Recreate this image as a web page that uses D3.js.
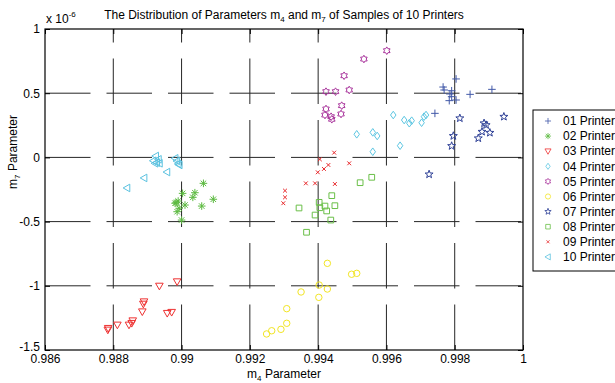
<!DOCTYPE html>
<html><head><meta charset="utf-8">
<script src="https://cdn.jsdelivr.net/npm/d3@7"></script>
<style>body{margin:0;background:#fff;overflow:hidden}text{font-family:"Liberation Sans",Arial,sans-serif;fill:#000}</style>
</head><body><svg id="c" width="615" height="383"></svg>
<script>
// ---- data (m4 values, m7 values in units of 1e-6) ----
const printerNames = ["01 Printer","02 Printer","03 Printer","04 Printer","05 Printer","06 Printer","07 Printer","08 Printer","09 Printer","10 Printer"];
const p01_m4 = [0.99804,0.99766,0.99769,0.99791,0.99786,0.99784,0.99804,0.99845,0.99909,0.99742,0.99791];
const p01_m7 = [0.611,0.548,0.525,0.519,0.494,0.442,0.447,0.491,0.530,0.343,0.473];
const p02_m4 = [0.99064,0.99039,0.99093,0.99033,0.99059,0.99003,0.98990,0.98984,0.99010,0.98993,0.98987,0.99000,0.98981];
const p02_m7 = [-0.202,-0.275,-0.326,-0.311,-0.379,-0.280,-0.340,-0.353,-0.371,-0.396,-0.423,-0.488,-0.357];
const p03_m4 = [0.98935,0.98987,0.98890,0.98888,0.98885,0.98857,0.98854,0.98846,0.98812,0.98785,0.98784,0.98958,0.98971];
const p03_m7 = [-1.002,-0.968,-1.124,-1.142,-1.202,-1.272,-1.292,-1.305,-1.305,-1.331,-1.344,-1.214,-1.206];
const p04_m4 = [0.99620,0.99652,0.99667,0.99674,0.99703,0.99710,0.99716,0.99560,0.99573,0.99640,0.99560,0.99513];
const p04_m7 = [0.330,0.291,0.266,0.286,0.270,0.317,0.330,0.195,0.167,0.091,0.044,0.180];
const p05_m4 = [0.99601,0.99534,0.99476,0.99491,0.99423,0.99451,0.99469,0.99423,0.99420,0.99438,0.99440,0.99467];
const p05_m7 = [0.831,0.766,0.636,0.525,0.512,0.512,0.403,0.377,0.330,0.317,0.297,0.338];
const p06_m4 = [0.99427,0.99498,0.99513,0.99403,0.99427,0.99350,0.99402,0.99308,0.99308,0.99291,0.99264,0.99249];
const p06_m7 = [-0.825,-0.910,-0.903,-0.994,-1.025,-1.048,-1.090,-1.178,-1.292,-1.339,-1.350,-1.375];
const p07_m4 = [0.99815,0.99796,0.99791,0.99886,0.99892,0.99880,0.99869,0.99903,0.99944,0.99725];
const p07_m7 = [0.305,0.167,0.089,0.266,0.252,0.200,0.149,0.192,0.317,-0.132];
const p08_m4 = [0.99440,0.99403,0.99420,0.99405,0.99449,0.99425,0.99391,0.99344,0.99437,0.99366,0.99523,0.99557];
const p08_m7 = [-0.298,-0.350,-0.379,-0.392,-0.376,-0.417,-0.449,-0.394,-0.488,-0.583,-0.197,-0.155];
const p09_m4 = [0.99447,0.99405,0.99430,0.99417,0.99399,0.99491,0.99364,0.99391,0.99449,0.99303,0.99303,0.99298];
const p09_m7 = [0.037,-0.015,-0.059,-0.090,-0.116,-0.046,-0.202,-0.202,-0.207,-0.259,-0.311,-0.357];
const p10_m4 = [0.98917,0.98924,0.98927,0.98932,0.98935,0.98922,0.98981,0.98986,0.98990,0.98993,0.98957,0.98890,0.98840];
const p10_m7 = [-0.026,0.011,-0.041,-0.015,-0.046,-0.046,-0.007,-0.028,-0.051,-0.059,-0.114,-0.160,-0.238];
const xTickValues = [0.986,0.988,0.990,0.992,0.994,0.996,0.998,1.000];
const xTickLabels = ["0.986","0.988","0.99","0.992","0.994","0.996","0.998","1"];
const yTickValues = [1,0.5,0,-0.5,-1,-1.5];
const yTickLabels = ["1","0.5","0","-0.5","-1","-1.5"];
const colors = ["#4259a8","#5cba40","#ee3131","#5cc6e2","#a9349c","#f2e524","#2f4197","#6abf48","#e8282b","#5bc2e0"];
const markers = ["plus","asterisk","triDown","diamond","hexagram","circle","pentagram","square","xsmall","triLeft"];

const seriesM4 = [p01_m4,p02_m4,p03_m4,p04_m4,p05_m4,p06_m4,p07_m4,p08_m4,p09_m4,p10_m4];
const seriesM7 = [p01_m7,p02_m7,p03_m7,p04_m7,p05_m7,p06_m7,p07_m7,p08_m7,p09_m7,p10_m7];
const series = printerNames.map((n,i)=>({name:n,color:colors[i],marker:markers[i],
  pts:seriesM4[i].map((v,j)=>[v,seriesM7[i][j]])}));

const svg = d3.select("#c");
const L=45,R=523,T=29,B=350;
const x = d3.scaleLinear().domain([0.986,1]).range([L,R]);
const y = d3.scaleLinear().domain([-1.5,1]).range([B,T]);

function star(n, ro, ri){
  let p=[];
  for(let k=0;k<2*n;k++){
    const a=-Math.PI/2 + k*Math.PI/n;
    const r = k%2===0?ro:ri;
    p.push([r*Math.cos(a), r*Math.sin(a)]);
  }
  return "M"+p.map(q=>q[0].toFixed(2)+","+q[1].toFixed(2)).join("L")+"Z";
}
function markerPath(m){
  const r=3.8;
  switch(m){
    case "plus": return `M${-r},0H${r}M0,${-r}V${r}`;
    case "asterisk": { const d=r*0.72; return `M${-r},0H${r}M0,${-r}V${r}M${-d},${-d}L${d},${d}M${-d},${d}L${d},${-d}`; }
    case "triDown": return `M${-r},${-r*0.75}L${r},${-r*0.75}L0,${r}Z`;
    case "triLeft": return `M${-r},0L${r*0.75},${-r}L${r*0.75},${r}Z`;
    case "diamond": return `M0,${-r}L${r*0.72},0L0,${r}L${-r*0.72},0Z`;
    case "hexagram": return star(6,r,r*0.6);
    case "pentagram": return star(5,r*1.1,r*0.45);
    case "circle": return d3.arc()({innerRadius:0,outerRadius:r*0.85,startAngle:0,endAngle:2*Math.PI});
    case "square": return `M${-r*0.75},${-r*0.75}H${r*0.75}V${r*0.75}H${-r*0.75}Z`;
    case "xsmall": { const d=r*0.5; return `M${-d},${-d}L${d},${d}M${-d},${d}L${d},${-d}`; }
  }
}

// grid
const g = svg.append("g");
xTickValues.filter(v=>v>0.986 && v<1).forEach(v=>{
  g.append("line").attr("x1",x(v)).attr("x2",x(v)).attr("y1",B).attr("y2",T)
   .attr("stroke","#262626").attr("stroke-width",1).attr("stroke-dasharray","45.5,16");
});
yTickValues.filter(v=>v>-1.5 && v<1).forEach(v=>{
  g.append("line").attr("x1",L).attr("x2",R).attr("y1",y(v)).attr("y2",y(v))
   .attr("stroke","#262626").attr("stroke-width",1).attr("stroke-dasharray","45.5,16");
});

// axes
const ax = svg.append("g").attr("transform",`translate(0,${B})`)
  .call(d3.axisBottom(x).tickValues(xTickValues).tickFormat((d,i)=>xTickLabels[i]).tickSizeInner(-5).tickSizeOuter(0).tickPadding(4));
const ay = svg.append("g").attr("transform",`translate(${L},0)`)
  .call(d3.axisLeft(y).tickValues(yTickValues).tickFormat((d,i)=>yTickLabels[i]).tickSizeInner(-5).tickSizeOuter(0).tickPadding(5));
const axT = svg.append("g").attr("transform",`translate(0,${T})`)
  .call(d3.axisTop(x).tickValues(xTickValues).tickFormat("").tickSizeInner(-5).tickSizeOuter(0));
const ayR = svg.append("g").attr("transform",`translate(${R},0)`)
  .call(d3.axisRight(y).tickValues(yTickValues).tickFormat("").tickSizeInner(-5).tickSizeOuter(0));
[ax,ay,axT,ayR].forEach(a=>{
  a.select(".domain").remove();
  a.selectAll("line").attr("stroke","#000");
  a.selectAll("text").style("font-family","'Liberation Sans',Arial,sans-serif").style("font-size","12px").attr("fill","#000");
});
ay.selectAll(".tick text").filter((d)=>d===-1.5).attr("dy","0.05em");
svg.append("rect").attr("x",L).attr("y",T).attr("width",R-L).attr("height",B-T)
  .attr("fill","none").attr("stroke","#000").attr("stroke-width",1.2);

// points
series.forEach(s=>{
  const path = markerPath(s.marker);
  svg.append("g").selectAll("path").data(s.pts).join("path")
    .attr("transform",d=>`translate(${x(d[0])},${y(d[1])})`)
    .attr("d",path).attr("fill","none").attr("stroke",s.color).attr("stroke-width",1);
});

// title
const t = svg.append("text").attr("x",(L+R)/2).attr("y",19).attr("text-anchor","middle").style("font-size","12px");
t.append("tspan").text("The Distribution of Parameters m");
t.append("tspan").text("4").style("font-size","8px").attr("dy",3);
t.append("tspan").text(" and m").attr("dy",-3);
t.append("tspan").text("7").style("font-size","8px").attr("dy",3);
t.append("tspan").text(" of Samples of 10 Printers").attr("dy",-3);

// exponent
const e = svg.append("text").attr("x",46).attr("y",23).style("font-size","12px");
e.append("tspan").text("x 10");
e.append("tspan").text("-6").style("font-size","8px").attr("dy",-6);

// x label
const xl = svg.append("text").attr("x",(L+R)/2).attr("y",378).attr("text-anchor","middle").style("font-size","12px");
xl.append("tspan").text("m");
xl.append("tspan").text("4").style("font-size","8px").attr("dy",3);
xl.append("tspan").text(" Parameter").attr("dy",-3);

// y label
const yl = svg.append("text").attr("transform","translate(17,152) rotate(-90)").attr("text-anchor","middle").style("font-size","12px");
yl.append("tspan").text("m");
yl.append("tspan").text("7").style("font-size","8px").attr("dy",3);
yl.append("tspan").text(" Parameter").attr("dy",-3);

// legend
const lg = svg.append("g");
lg.append("rect").attr("x",533).attr("y",110).attr("width",120).attr("height",161)
  .attr("fill","#fff").attr("stroke","#000").attr("stroke-width",1);
series.forEach((s,i)=>{
  const yy = 121 + i*15.1;
  lg.append("path").attr("transform",`translate(548,${yy})`).attr("d",markerPath(s.marker))
    .attr("fill","none").attr("stroke",s.color).attr("stroke-width",1)
    .attr("transform",`translate(548,${yy}) scale(0.8)`);
  lg.append("text").attr("x",563).attr("y",yy+4.2).style("font-size","12px").text(s.name);
});
</script></body></html>
